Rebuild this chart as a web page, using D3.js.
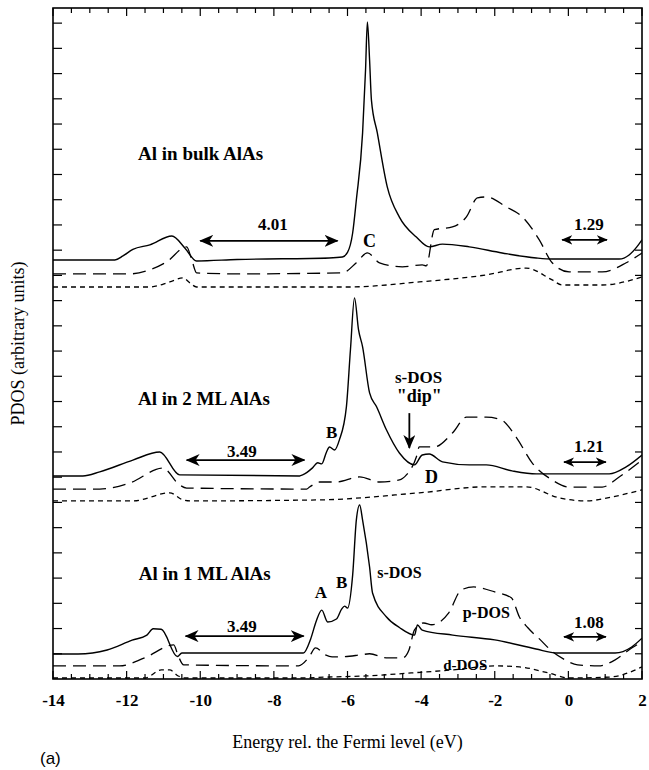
<!DOCTYPE html>
<html>
<head>
<meta charset="utf-8">
<script src="https://cdn.jsdelivr.net/npm/d3@7"></script>
<style>
body { margin: 0; background: #fff; }
svg { display: block; }
</style>
</head>
<body>
<div id="chart"></div>
<script>
// energy axis
var energyTicks = [-14, -12, -10, -8, -6, -4, -2, 0, 2];
var panelNames = ['Al in bulk AlAs', 'Al in 2 ML AlAs', 'Al in 1 ML AlAs'];

// [energy (eV), PDOS above the curve's own baseline] (arbitrary units)
var bulkS = [[-14,0],[-12.32,0],[-12.1,0.16],[-11.83,0.42],[-11.37,0.6],[-10.77,0.95],[-10.42,0.48],[-10.1,-0.04],[-9,0.02],[-6.5,0.08],[-6.14,0.12],[-6.0,0.3],[-5.86,1.07],[-5.76,2.38],[-5.59,5.04],[-5.51,7.53],[-5.46,9.44],[-5.4,7.93],[-5.35,6.34],[-5.19,5.04],[-4.92,2.9],[-4.59,1.7],[-4.13,0.91],[-3.78,0.52],[-3.42,0.63],[-2.69,0.52],[-1.8,0.28],[-0.87,0.08],[-0.44,0.04],[1.38,0.04],[1.65,0.2],[1.86,0.52],[2,0.8]];
var bulkP = [[-14,0],[-11.91,0],[-11.37,0.16],[-10.91,0.48],[-10.37,1.07],[-10.22,0.5],[-10.1,0.04],[-9,0],[-6.14,0.04],[-5.76,0.44],[-5.46,0.83],[-5.13,0.44],[-4.51,0.28],[-3.97,0.36],[-3.86,0.32],[-3.64,1.75],[-3.15,1.86],[-2.77,2.26],[-2.47,3.01],[-2.23,3.05],[-1.69,2.66],[-1.25,2.26],[-0.79,1.35],[-0.44,0.44],[0.02,0.08],[0.92,0.08],[1.57,0.44],[2,0.83]];
var bulkD = [[-14,0],[-11.37,0],[-10.83,0.2],[-10.47,0.36],[-10.28,0.16],[-10.1,0],[-6,0],[-4.05,0.2],[-2.23,0.48],[-1.15,0.75],[-0.44,0.28],[-0.17,0.08],[0.92,0.08],[2,0.4]];

var ml2S = [[-14,0],[-13.19,0],[-12.73,0.16],[-11.83,0.63],[-11.1,0.95],[-10.56,0.04],[-7.3,0],[-7.22,0.04],[-6.95,0.32],[-6.81,0.52],[-6.7,0.48],[-6.57,0.95],[-6.49,1.15],[-6.35,1.03],[-6.22,1.43],[-6.03,2.74],[-5.92,5.0],[-5.81,7.06],[-5.7,5.79],[-5.59,5.12],[-5.4,3.29],[-5.21,2.74],[-4.94,1.82],[-4.59,0.91],[-4.18,0.44],[-3.97,0.83],[-3.78,0.87],[-3.42,0.56],[-2.69,0.44],[-2.23,0.44],[-1.53,0.2],[-0.87,0.08],[1.11,0.08],[1.57,0.36],[2,0.83]];
var ml2P = [[-14,0],[-12.73,0],[-11.91,0.24],[-11.02,0.83],[-10.56,0.16],[-10.37,0.04],[-7.11,0],[-7.03,0.08],[-6.76,0.28],[-6.3,0.28],[-5.67,0.48],[-5.13,0.28],[-4.59,0.36],[-4.4,0.56],[-4.13,1.27],[-4.05,1.67],[-3.64,1.67],[-3.15,2.22],[-2.77,2.85],[-2.23,2.85],[-1.82,2.74],[-1.42,2.06],[-0.98,1.03],[-0.44,0.36],[0.02,0.08],[0.92,0.08],[1.38,0.48],[2,1.15]];
var ml2D = [[-14,0],[-11.83,0],[-10.83,0.32],[-10.47,0.04],[-10.28,0],[-6.76,0.04],[-4.05,0.32],[-2.23,0.56],[-1.15,0.56],[-0.25,0.12],[0.48,0],[1.19,0.16],[2,0.44]];

var ml1S = [[-14,0],[-13.32,0],[-12.53,0.16],[-11.85,0.55],[-11.45,0.75],[-11.28,1.0],[-11.06,0.98],[-10.62,-0.1],[-10.5,0.04],[-7.2,0.04],[-7.0,0.6],[-6.85,1.3],[-6.7,1.74],[-6.54,1.27],[-6.3,1.39],[-6.16,1.78],[-6.08,1.9],[-6.0,1.82],[-5.86,3.13],[-5.76,5.31],[-5.67,5.91],[-5.59,5.31],[-5.4,3.45],[-5.32,2.42],[-4.94,1.47],[-4.59,1.05],[-4.18,0.75],[-4.1,1.15],[-3.97,0.95],[-3.14,0.75],[-2.0,0.56],[-0.88,0.2],[-0.31,0.04],[1.27,0.04],[1.72,0.28],[2,0.63]];
var ml1P = [[-14,0],[-12.19,0],[-11.51,0.32],[-10.72,0.83],[-10.6,0.4],[-10.45,0.04],[-7.33,0],[-7.04,0.36],[-6.87,0.71],[-6.6,0.44],[-6.42,0.36],[-6.19,0.36],[-5.63,0.44],[-5.4,0.48],[-4.95,0.32],[-4.5,0.32],[-4.33,0.63],[-4.18,1.43],[-3.93,1.7],[-3.71,1.63],[-3.25,2.1],[-2.91,3.01],[-2.57,3.13],[-2.0,2.93],[-1.55,2.7],[-1.33,1.94],[-1.1,1.51],[-0.76,1.03],[-0.43,0.56],[-0.09,0.24],[0.25,0.04],[0.82,0],[1.27,0.24],[1.72,0.71],[2,0.95]];
var ml1D = [[-14,0],[-11.5,0],[-11.06,0.32],[-10.83,0.32],[-10.6,0.08],[-10.4,0],[-7.3,0],[-6.5,0.04],[-5.5,0.08],[-4.27,0.2],[-3.14,0.32],[-2.0,0.48],[-1.33,0.44],[-0.54,0.2],[0.02,0],[1.15,0.04],[2,0.44]];

// vertical shift of each curve (s, p, d) per panel
var baselines = [[16.61, 16.06, 15.54], [8.05, 7.53, 7.06], [0.99, 0.52, 0.04]];

// band gaps marked with double arrows
var gaps = [
  {label: '4.01', from: -10.0, to: -6.27, level: 17.37, lx: -8.03, ly: 17.8},
  {label: '1.29', from: -0.17, to: 1.05, level: 17.41, lx: 0.56, ly: 17.8},
  {label: '3.49', from: -10.37, to: -7.17, level: 8.68, lx: -8.87, ly: 8.8},
  {label: '1.21', from: -0.12, to: 1.02, level: 8.6, lx: 0.56, ly: 8.98},
  {label: '3.49', from: -10.4, to: -7.19, level: 1.7, lx: -8.87, ly: 1.86},
  {label: '1.08', from: -0.12, to: 1.02, level: 1.67, lx: 0.56, ly: 2.02}
];

// feature labels
var notes = [
  {t: panelNames[0], e: -9.99, v: 20.58, size: 19},
  {t: 'C', e: -5.4, v: 17.13, size: 18},
  {t: panelNames[1], e: -9.9, v: 10.86, size: 19},
  {t: 'B', e: -6.43, v: 9.56, size: 17},
  {t: 's-DOS', e: -4.07, v: 11.74, size: 17},
  {t: '"dip"', e: -4.05, v: 10.99, size: 18},
  {t: 'D', e: -3.72, v: 7.77, size: 18},
  {t: panelNames[2], e: -9.88, v: 3.92, size: 19},
  {t: 'A', e: -6.72, v: 3.21, size: 17},
  {t: 'B', e: -6.16, v: 3.6, size: 17},
  {t: 's-DOS', e: -4.59, v: 4.0, size: 16},
  {t: 'p-DOS', e: -2.23, v: 2.42, size: 16},
  {t: 'd-DOS', e: -2.8, v: 0.36, size: 15}
];

var width = 649, height = 770;
var svg = d3.select('#chart')
  .append('svg')
    .attr('width', width)
    .attr('height', height)
    .style('background', '#fff');

var x = d3.scaleLinear().domain([-14, 2]).range([53, 642]);
var y = d3.scaleLinear().domain([0, 26.6]).range([679, 8]);

var serif = '"Liberation Serif", "DejaVu Serif", serif';

var defs = svg.append('defs');
defs.append('clipPath').attr('id', 'frame')
  .append('rect')
    .attr('x', x(-14)).attr('y', y(26.6))
    .attr('width', x(2) - x(-14)).attr('height', y(0) - y(26.6));

function addHead(id, w, h) {
  defs.append('marker')
      .attr('id', id)
      .attr('viewBox', '0 -6 14 12')
      .attr('refX', 13)
      .attr('refY', 0)
      .attr('markerUnits', 'userSpaceOnUse')
      .attr('markerWidth', w)
      .attr('markerHeight', h)
      .attr('orient', 'auto-start-reverse')
    .append('path')
      .attr('d', 'M14,0 L0,-6 L4,0 L0,6 Z')
      .style('fill', 'black');
}
addHead('head', 14, 12);
addHead('headSmall', 11, 10);

// curves
var curves = [
  [bulkS, bulkP, bulkD],
  [ml2S, ml2P, ml2D],
  [ml1S, ml1P, ml1D]
];
var dashes = [null, '13,7', '5,4'];

var plot = svg.append('g').attr('clip-path', 'url(#frame)');

curves.forEach(function(panel, i) {
  panel.forEach(function(pts, k) {
    var base = baselines[i][k];
    var line = d3.line()
      .x(function(d) { return x(d[0]); })
      .y(function(d) { return y(base + d[1]); })
      .curve(d3.curveMonotoneX);
    plot.append('path')
      .datum(pts)
      .attr('d', line)
      .style('fill', 'none')
      .style('stroke', 'black')
      .style('stroke-width', k == 0 ? 1.4 : 1.3)
      .style('stroke-dasharray', dashes[k]);
  });
});

// frame + ticks
var minor = d3.range(-14, 2.01, 0.5);
var yTicks = d3.range(1, 27);

var ticks = svg.append('g').style('stroke', 'black');

minor.forEach(function(e) {
  var major = energyTicks.indexOf(e) >= 0;
  var len = major ? 8 : 5;
  ticks.append('line')
    .attr('x1', x(e)).attr('x2', x(e))
    .attr('y1', y(0)).attr('y2', y(0) - len)
    .style('stroke-width', 1.2);
  ticks.append('line')
    .attr('x1', x(e)).attr('x2', x(e))
    .attr('y1', y(26.6)).attr('y2', y(26.6) + len)
    .style('stroke-width', 1.2);
});

yTicks.forEach(function(v) {
  ticks.append('line')
    .attr('x1', x(-14)).attr('x2', x(-14) + 9)
    .attr('y1', y(v)).attr('y2', y(v))
    .style('stroke-width', 1.2);
  ticks.append('line')
    .attr('x1', x(2)).attr('x2', x(2) - 7)
    .attr('y1', y(v)).attr('y2', y(v))
    .style('stroke-width', 1.2);
});

svg.append('rect')
  .attr('x', x(-14)).attr('y', y(26.6))
  .attr('width', x(2) - x(-14)).attr('height', y(0) - y(26.6))
  .style('fill', 'none')
  .style('stroke', 'black')
  .style('stroke-width', 1.6);

// tick labels use a plain hyphen as in the original
var bottom = d3.axisBottom(x).tickValues(energyTicks).tickSize(0).tickPadding(0)
  .tickFormat(function(d) { return String(d); });

var xAxis = svg.append('g')
  .attr('transform', 'translate(0,' + (y(0) + 22) + ')')
  .call(bottom);
xAxis.select('.domain').remove();
xAxis.selectAll('text')
  .attr('dy', '0.3em')
  .style('font-family', serif)
  .style('font-weight', 'bold')
  .style('font-size', '17px')
  .style('fill', 'black');

svg.append('text')
  .attr('x', x(-6))
  .attr('y', 748)
  .attr('text-anchor', 'middle')
  .style('font-family', serif)
  .style('font-size', '18px')
  .text('Energy rel. the Fermi level (eV)');

svg.append('text')
  .attr('transform', 'translate(24,' + ((y(0) + y(26.6)) / 2) + ') rotate(-90)')
  .attr('text-anchor', 'middle')
  .style('font-family', serif)
  .style('font-size', '18px')
  .text('PDOS (arbitrary units)');

svg.append('text')
  .attr('x', 40)
  .attr('y', 764)
  .style('font-family', '"Liberation Sans", Arial, sans-serif')
  .style('font-size', '17px')
  .text('(a)');

// gap arrows
gaps.forEach(function(g) {
  var small = (g.to - g.from) < 2;
  svg.append('line')
    .attr('x1', x(g.from)).attr('x2', x(g.to))
    .attr('y1', y(g.level)).attr('y2', y(g.level))
    .style('stroke', 'black')
    .style('stroke-width', 1.8)
    .attr('marker-start', small ? 'url(#headSmall)' : 'url(#head)')
    .attr('marker-end', small ? 'url(#headSmall)' : 'url(#head)');
  svg.append('text')
    .attr('x', x(g.lx)).attr('y', y(g.ly))
    .attr('text-anchor', 'middle')
    .style('font-family', serif)
    .style('font-weight', 'bold')
    .style('font-size', '17px')
    .text(g.label);
});

// "dip" arrow
svg.append('line')
  .attr('x1', x(-4.32)).attr('x2', x(-4.32))
  .attr('y1', y(10.54)).attr('y2', y(9.16))
  .style('stroke', 'black')
  .style('stroke-width', 1.8)
  .attr('marker-end', 'url(#head)');

notes.forEach(function(n) {
  svg.append('text')
    .attr('x', x(n.e)).attr('y', y(n.v))
    .attr('text-anchor', 'middle')
    .style('font-family', serif)
    .style('font-weight', 'bold')
    .style('font-size', n.size + 'px')
    .text(n.t);
});
</script>
</body>
</html>
